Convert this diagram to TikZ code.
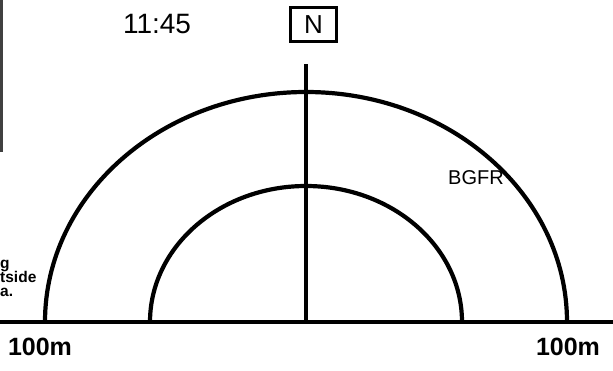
\documentclass[tikz,border=0pt]{standalone}
\usepackage{fontspec}
\setmainfont{Liberation Sans}
\begin{document}
\begin{tikzpicture}[x=1pt,y=1pt,
  arcline/.style={line width=4.2pt},
  label100/.style={font=\bfseries\fontsize{25}{25}\selectfont, inner sep=0pt},
  sidetext/.style={font=\bfseries\fontsize{15.5}{15}\selectfont, inner sep=0pt, anchor=base west},
  hand/.style={font=\fontsize{28}{28}\selectfont, inner sep=0pt}]
\useasboundingbox (0,0) rectangle (613,370);
\coordinate (C) at (306,48);
\coordinate (Ltop) at (306,306);
\coordinate (BL) at (0,48);
\coordinate (BR) at (613,48);
% baseline
\draw[line width=3.2pt] (BL) -- (BR);
% outer and inner semi-ellipses
\draw[arcline] (45,48) arc[start angle=180, end angle=0, x radius=261, y radius=230];
\draw[arcline] (150,48) arc[start angle=180, end angle=0, x radius=156, y radius=136];
% north line
\draw[line width=3.4pt] (C) -- (Ltop);
% N box
\node[draw, line width=3pt, minimum width=46pt, minimum height=34pt, inner sep=0pt, font=\fontsize{26}{26}\selectfont] (N) at (313.5,345) {N};
% left edge line
\coordinate (E1) at (1.5,370);
\coordinate (E2) at (1.5,218);
\draw[line width=3pt, black!75] (E1) -- (E2);
% left cut-off text
\node[sidetext] (t1) at (0,102) {g};
\node[sidetext] (t2) at (0,88) {tside};
\node[sidetext] (t3) at (0,74) {a.};
% distance labels
\node[label100] (l1) at (40,23) {100m};
\node[label100] (l2) at (568,23) {100m};
% handwritten notes
\node[hand] (time) at (157,346) {11:45};
\node[hand, font=\fontsize{20}{20}\selectfont] (bgfr) at (476,192) {BGFR};
\end{tikzpicture}
\end{document}
